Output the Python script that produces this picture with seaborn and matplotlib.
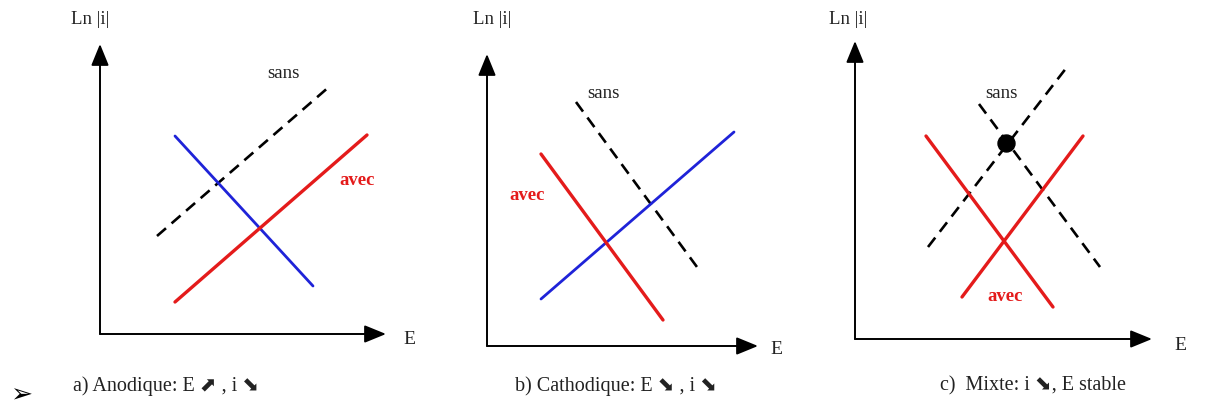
import matplotlib
matplotlib.use("Agg")
import matplotlib.pyplot as plt
import seaborn as sns
import pandas as pd

sns.set_theme(style="white")
plt.rcParams["font.family"] = ["Liberation Serif", "DejaVu Sans"]

# Canvas units: a 1211 x 410 drawing space, y growing downwards.
# Coordinate axes of the three Evans-type diagrams: origin, y-top, x-right
axis_origin_x = [100, 487, 855]
axis_origin_y = [335, 347, 340]
axis_top_y = [45, 55, 42]
axis_right_x = [386, 758, 1152]

# Straight segments: panel, kind, x0, y0, x1, y1
seg_panel = ["a", "a", "a", "b", "b", "b", "c", "c", "c", "c"]
seg_kind = ["sans", "blue", "avec", "sans", "blue", "avec", "sans", "sans", "avec", "avec"]
seg_x0 = [157, 175, 175, 576, 541, 541, 928, 979, 926, 962]
seg_y0 = [237, 137, 303, 103, 300, 155, 248, 105, 137, 298]
seg_x1 = [330, 313, 367, 697, 734, 663, 1067, 1100, 1053, 1083]
seg_y1 = [87, 287, 136, 268, 133, 321, 68, 268, 308, 137]

# Intersection point of the two "sans" lines in the mixed case
dot_x = [1006]
dot_y = [144]

# Labels
axis_ylabel = "Ln |i|"
axis_xlabel = "E"
ylabel_x = [90, 492, 848]
xlabel_x = [409, 776, 1180]
xlabel_y = [340, 350, 346]
sans_x = [283, 603, 1001]
sans_y = [74, 94, 93]
avec_x = [357, 527, 1005]
avec_y = [181, 196, 297]
UP, DOWN = "\u2b08", "\u2b0a"
captions = [f"a) Anodique: E {UP} , i {DOWN}",
            f"b) Cathodique: E {DOWN} , i {DOWN}",
            f"c)  Mixte: i {DOWN}, E stable"]
caption_x = [73, 515, 940]

RED = "#e41b1b"
BLUE = "#1f23d8"

fig = plt.figure(figsize=(12.11, 4.10), dpi=100)
ax = fig.add_axes([0, 0, 1, 1])
ax.set_xlim(0, 1211)
ax.set_ylim(410, 0)
ax.axis("off")

rows = []
for i in range(len(seg_panel)):
    rows.append({"seg": i, "kind": seg_kind[i], "x": seg_x0[i], "y": seg_y0[i]})
    rows.append({"seg": i, "kind": seg_kind[i], "x": seg_x1[i], "y": seg_y1[i]})
df = pd.DataFrame(rows)

styles = {
    "sans": dict(color="black", linewidth=1.9, dashes=(4.5, 2.8)),
    "blue": dict(color=BLUE, linewidth=2.0),
    "avec": dict(color=RED, linewidth=2.4),
}
for seg, sub in df.groupby("seg"):
    kind = sub["kind"].iloc[0]
    st = styles[kind]
    sns.lineplot(data=sub, x="x", y="y", sort=False, estimator=None, ax=ax,
                 legend=False, color=st["color"], linewidth=st["linewidth"])
    if "dashes" in st:
        ax.lines[-1].set_dashes(st["dashes"])

sns.scatterplot(x=dot_x, y=dot_y, ax=ax, color="black", s=150, edgecolor="black",
                zorder=5, legend=False)

arrow_kw = dict(arrowstyle="-|>,head_length=1.1,head_width=0.45", color="black",
                lw=1.4, shrinkA=0, shrinkB=0)
for i in range(3):
    ox, oy = axis_origin_x[i], axis_origin_y[i]
    ax.annotate("", xy=(ox, axis_top_y[i]), xytext=(ox, oy), arrowprops=arrow_kw)
    ax.annotate("", xy=(axis_right_x[i], oy), xytext=(ox, oy), arrowprops=arrow_kw)
    ax.text(ylabel_x[i], 20, axis_ylabel, fontsize=13.5, ha="center", va="center",
            color="#222222")
    ax.text(xlabel_x[i], xlabel_y[i], axis_xlabel, fontsize=14, ha="center",
            va="center", color="#222222")
    ax.text(sans_x[i], sans_y[i], "sans", fontsize=13.5, ha="center", va="center",
            color="#222222")
    ax.text(avec_x[i], avec_y[i], "avec", fontsize=13.5, ha="center", va="center",
            color=RED, fontweight="bold")
    ax.text(caption_x[i], 386, captions[i], fontsize=14.5, ha="left", va="center",
            color="#222222")

ax.text(21, 395, "\u27a2", fontsize=19, ha="center", va="center", color="black",
        family=["DejaVu Sans"])

fig.savefig("out.png", dpi=100, facecolor="white")
